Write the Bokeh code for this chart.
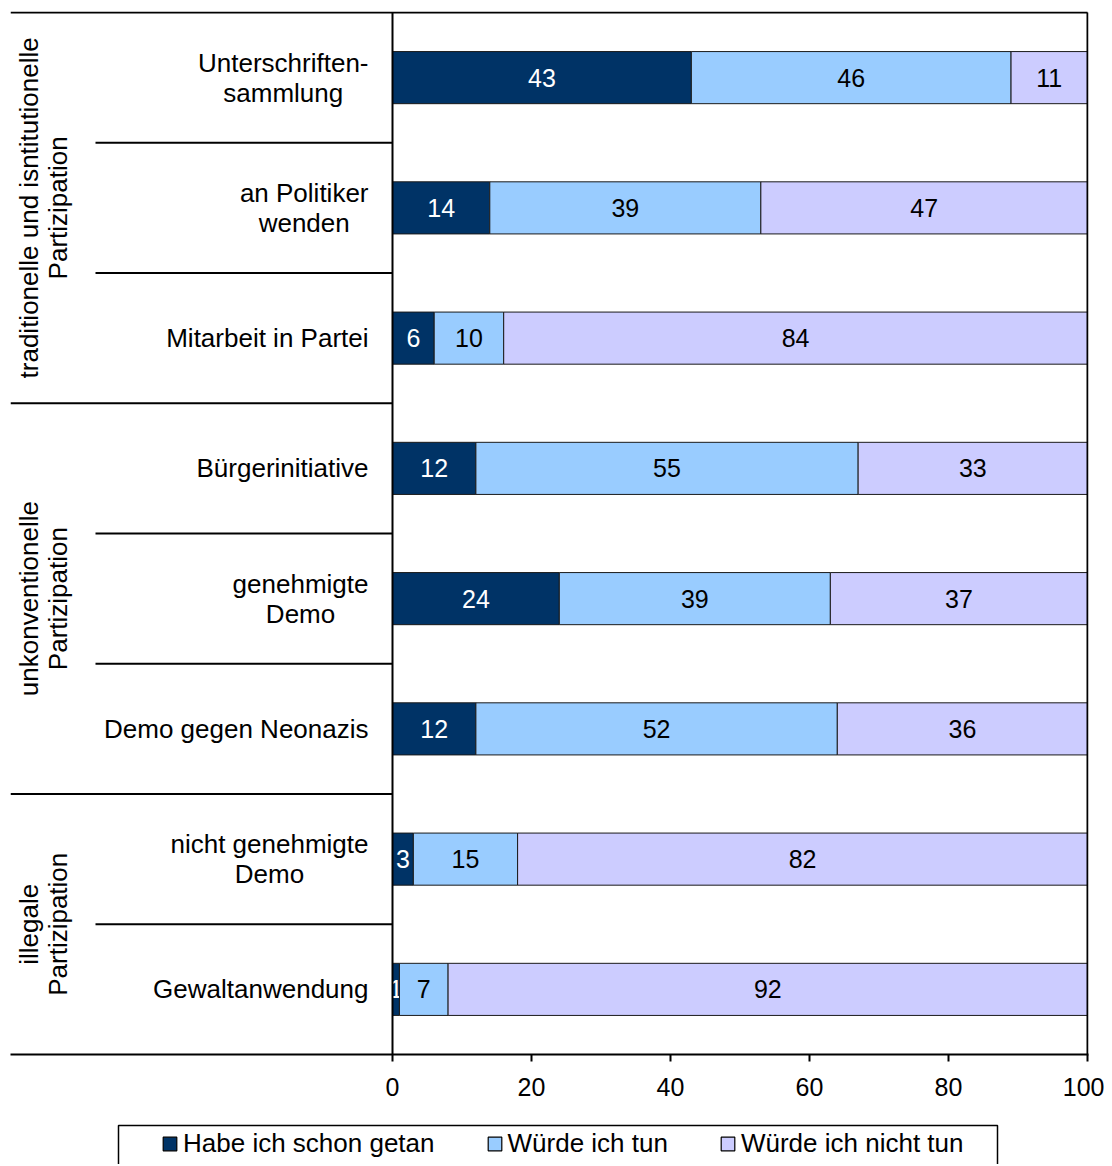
import numpy as np
from bokeh.plotting import figure
from bokeh.models import Range1d, FixedTicker, Legend, LegendItem
from bokeh.layouts import column
from bokeh.embed import file_html
from bokeh.resources import INLINE
from bokeh.core.properties import value

# ---------------- data ----------------
categories = ["Unterschriften-\nsammlung", "an Politiker\nwenden", "Mitarbeit in Partei",
              "Bürgerinitiative", "genehmigte\nDemo", "Demo gegen Neonazis",
              "nicht genehmigte\nDemo", "Gewaltanwendung"]
done = [43, 14, 6, 12, 24, 12, 3, 1]
would = [46, 39, 10, 55, 39, 52, 15, 7]
would_not = [11, 47, 84, 33, 37, 36, 82, 92]
groups = ["traditionelle und isntitutionelle\nPartizipation",
          "unkonventionelle\nPartizipation",
          "illegale\nPartizipation"]
group_sizes = [3, 3, 2]
series_names = ["Habe ich schon getan", "Würde ich tun", "Würde ich nicht tun"]
colors = ["#003366", "#99CCFF", "#CCCCFF"]
label_colors = ["white", "black", "black"]
x_ticks = [0, 20, 40, 60, 80, 100]

FONT = value("Liberation Sans")

# ---------------- layout constants (pixels) ----------------
PX_PER_UNIT = 6.95          # horizontal scale
AXIS_PAGE_X = 392           # page x of value 0
FRAME_LEFT_PAGE_X = 10      # page x of frame left
FRAME_RIGHT_PAGE_X = 1088   # page x of frame right
CAT_SEP_PAGE_X = 95         # page x where category separators start

n = len(categories)
xs = -(AXIS_PAGE_X - FRAME_LEFT_PAGE_X) / PX_PER_UNIT
xe = 100 + 1 / PX_PER_UNIT
x_cat = -(AXIS_PAGE_X - CAT_SEP_PAGE_X) / PX_PER_UNIT
ye = n * 1043 / 1042

p = figure(width=1104, height=1114, x_range=Range1d(xs, xe), y_range=Range1d(0, ye),
           output_backend="svg", toolbar_location=None, y_axis_location=None,
           min_border_left=10, min_border_right=16, min_border_top=11, min_border_bottom=60)
p.outline_line_color = None
p.xgrid.visible = False
p.ygrid.visible = False

# ---------------- bars ----------------
yc = np.arange(n)[::-1] + 0.5
vals = np.array([done, would, would_not], dtype=float)
rights = np.cumsum(vals, axis=0)
lefts = np.vstack([np.zeros(n), rights[:-1]])
for k in range(3):
    p.hbar(y=yc, left=lefts[k], right=rights[k], height=0.4,
           fill_color=colors[k], line_color="#1a1a1a", line_width=1)
    p.text(x=(lefts[k] + rights[k]) / 2, y=yc, text=[str(int(v)) for v in vals[k]],
           text_font=FONT, text_font_size="25px", text_color=label_colors[k],
           text_align="center", text_baseline="middle")

# ---------------- frame lines and separators ----------------
bounds = n - np.cumsum(group_sizes)           # lower edges of groups
group_tops = np.concatenate([[n], bounds[:-1]])
seg_x0, seg_y0, seg_x1, seg_y1 = [], [], [], []
seg_x0 += [xs, 100, 0]; seg_y0 += [n, 0, 0]; seg_x1 += [100, 100, 0]; seg_y1 += [n, n, n]
for b in bounds[:-1]:
    seg_x0.append(xs); seg_y0.append(b); seg_x1.append(0); seg_y1.append(b)
bset = set(bounds.tolist())
for j in range(1, n):
    if j not in bset:
        seg_x0.append(x_cat); seg_y0.append(j); seg_x1.append(0); seg_y1.append(j)
p.segment(x0=seg_x0, y0=seg_y0, x1=seg_x1, y1=seg_y1, line_color="black", line_width=2)

# ---------------- category labels ----------------
p.text(x=[0] * n, y=yc, text=categories, x_offset=-24,
       anchor="center_right", text_align="center", text_baseline="middle",
       text_font=FONT, text_font_size="26px", text_color="black", text_line_height=1.0)

# ---------------- group labels ----------------
gc = (group_tops + bounds) / 2
p.text(x=[xs] * len(groups), y=gc, text=groups, x_offset=33, angle=np.pi / 2,
       text_align="center", text_baseline="middle",
       text_font=FONT, text_font_size="26px", text_color="black", text_line_height=0.95)

# ---------------- x axis ----------------
ax = p.xaxis[0]
ax.ticker = FixedTicker(ticks=x_ticks)
ax.minor_tick_line_color = None
ax.major_tick_in = 0
ax.major_tick_out = 7
ax.major_tick_line_width = 2
ax.major_tick_line_color = "black"
ax.axis_line_width = 2
ax.axis_line_color = "black"
ax.major_label_text_font = "Liberation Sans"
ax.major_label_text_font_size = "25px"
ax.major_label_text_color = "black"
ax.major_label_standoff = 16

# ---------------- legend strip (x data = page pixels) ----------------
p2 = figure(width=1104, height=50,
            x_range=Range1d(FRAME_LEFT_PAGE_X, FRAME_RIGHT_PAGE_X), y_range=Range1d(0, 50),
            output_backend="svg", toolbar_location=None,
            x_axis_location=None, y_axis_location=None,
            min_border_left=10, min_border_right=16, min_border_top=0, min_border_bottom=0)
p2.outline_line_color = None
p2.xgrid.visible = False
p2.ygrid.visible = False
p2.quad(left=[118], right=[997], top=[39], bottom=[-20], fill_color=None,
        line_color="black", line_width=1.5)
items = []
for k in range(3):
    # sample glyphs placed outside the visible strip; only their legend swatches show
    r = p2.rect(x=[-500], y=[-500], width=1, height=1, fill_color=colors[k],
                line_color="black", line_width=1.2)
    items.append(LegendItem(label=series_names[k], renderers=[r]))
legend = Legend(items=items, orientation="horizontal", location=(151, 5),
                padding=0, margin=0, spacing=51, label_standoff=5,
                glyph_width=17, glyph_height=17, label_height=30,
                label_text_font="Liberation Sans", label_text_font_size="26px",
                label_text_color="black", border_line_color=None,
                background_fill_alpha=0)
p2.add_layout(legend)

layout = column(p, p2, spacing=0)
open("out.html", "w").write(file_html(layout, INLINE))
